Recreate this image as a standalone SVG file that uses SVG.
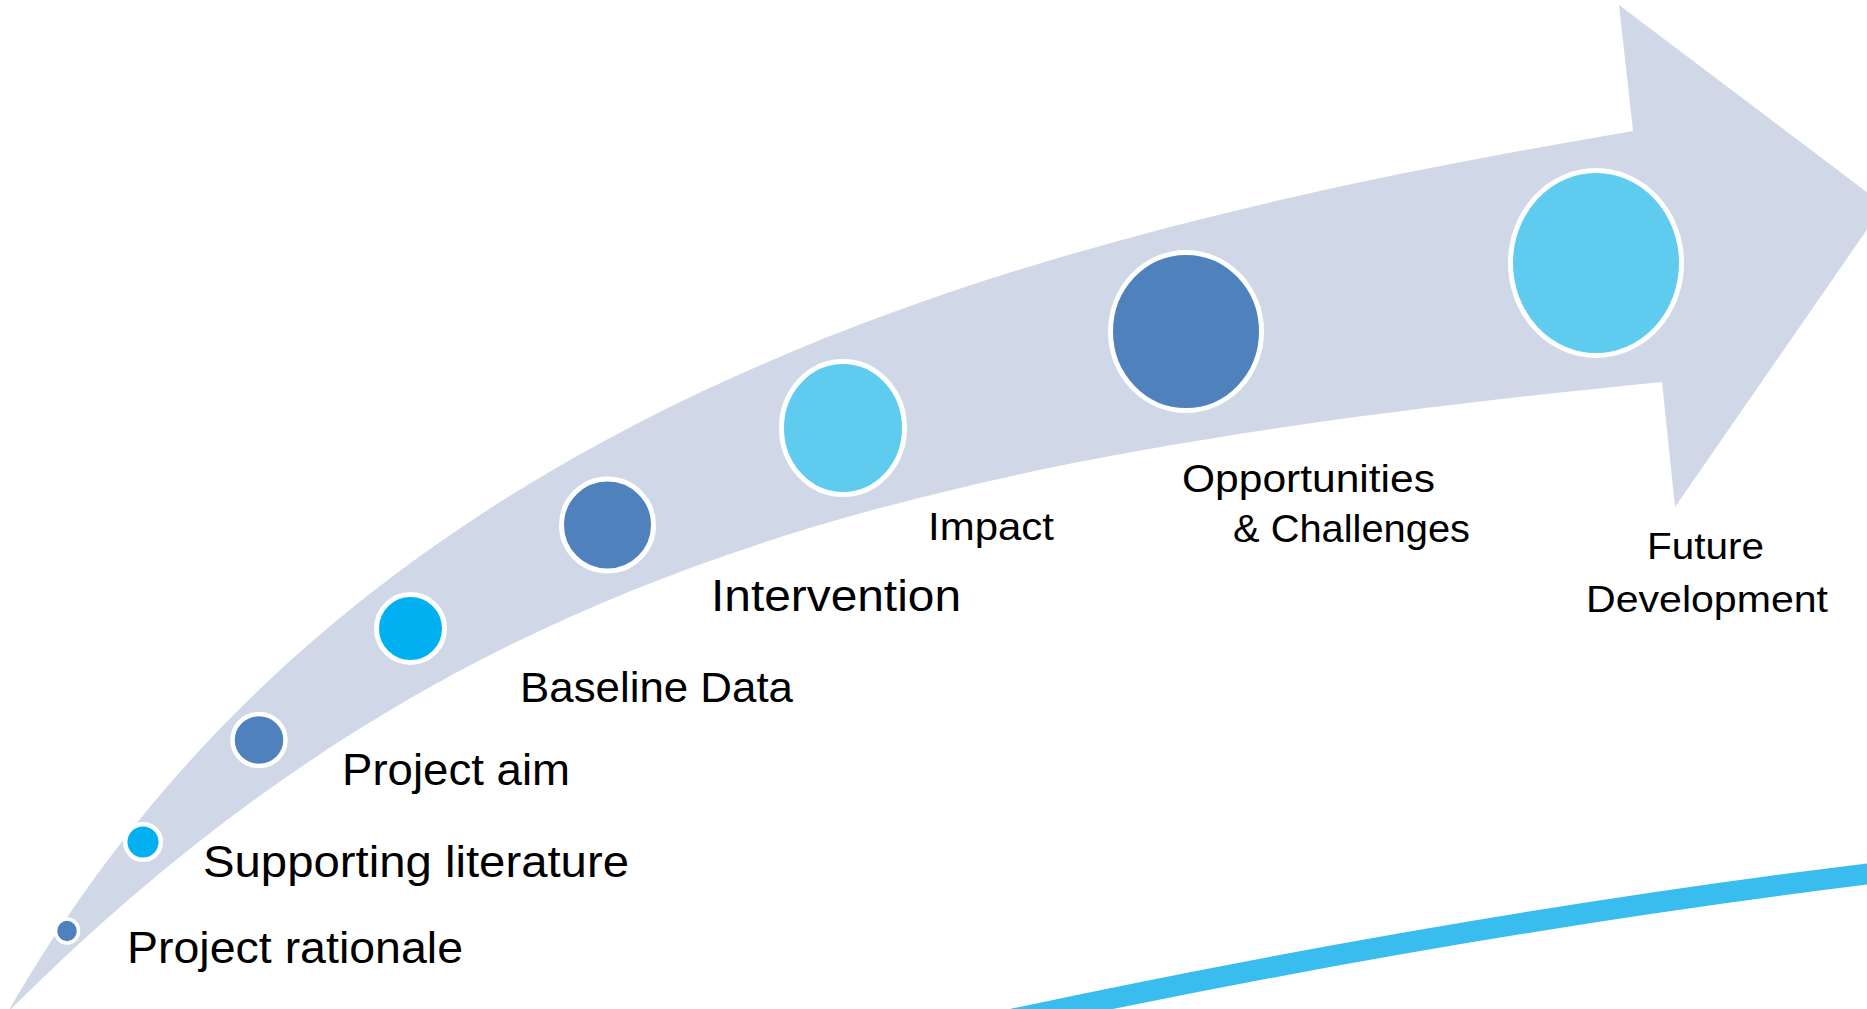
<svg xmlns="http://www.w3.org/2000/svg" width="1867" height="1009" viewBox="0 0 1867 1009">
  <style>
    .band { fill: #D0D8E8; }
    .swoosh { fill: none; stroke: #38BDEE; stroke-width: 21; }
    .dot { stroke: #FFFFFF; }
    .dark { fill: #4F81BD; }
    .cyan { fill: #00B0F0; }
    .light { fill: #5FCBEF; }
    .label { font-family: "Liberation Sans", Arial, sans-serif; fill: #000000; }
  </style>

  <!-- curved progress arrow and accent swoosh -->
  <g id="track">
    <path class="band" d="M 8,1012 C 358,399.5 1033,233 1633,131 L 1619,5 L 1884,205 L 1675,507 L 1662,382 C 912,457 458,562 8,1012 Z"/>
    <path class="swoosh" d="M 990,1024 Q 1450,925 1875,873"/>
  </g>

  <!-- milestones along the arrow -->
  <g id="project-rationale">
    <ellipse class="dot dark" cx="67" cy="931" rx="11.5" ry="12" stroke-width="3.5"/>
    <text class="label" x="127" y="963" font-size="44" textLength="336" lengthAdjust="spacingAndGlyphs">Project rationale</text>
  </g>

  <g id="supporting-literature">
    <ellipse class="dot cyan" cx="143" cy="842" rx="17.8" ry="17.8" stroke-width="4.5"/>
    <text class="label" x="203" y="877" font-size="44" textLength="426" lengthAdjust="spacingAndGlyphs">Supporting literature</text>
  </g>

  <g id="project-aim">
    <ellipse class="dot dark" cx="259" cy="740" rx="26.5" ry="26" stroke-width="4.5"/>
    <text class="label" x="342" y="785" font-size="44" textLength="228" lengthAdjust="spacingAndGlyphs">Project aim</text>
  </g>

  <g id="baseline-data">
    <ellipse class="dot cyan" cx="410.5" cy="628.5" rx="34" ry="34" stroke-width="5"/>
    <text class="label" x="520" y="702" font-size="43" textLength="273" lengthAdjust="spacingAndGlyphs">Baseline Data</text>
  </g>

  <g id="intervention">
    <ellipse class="dot dark" cx="607.5" cy="525" rx="46" ry="46" stroke-width="5"/>
    <text class="label" x="711" y="611" font-size="45" textLength="250" lengthAdjust="spacingAndGlyphs">Intervention</text>
  </g>

  <g id="impact">
    <ellipse class="dot light" cx="843" cy="428" rx="61.5" ry="66.5" stroke-width="5"/>
    <text class="label" x="928" y="540" font-size="38" textLength="126" lengthAdjust="spacingAndGlyphs">Impact</text>
  </g>

  <g id="opportunities-challenges">
    <ellipse class="dot dark" cx="1186" cy="331.5" rx="75.5" ry="79" stroke-width="5"/>
    <text class="label" x="1182" y="492" font-size="39" textLength="253" lengthAdjust="spacingAndGlyphs">Opportunities</text>
    <text class="label" x="1233" y="542" font-size="39" textLength="237" lengthAdjust="spacingAndGlyphs">&amp; Challenges</text>
  </g>

  <g id="future-development">
    <ellipse class="dot light" cx="1596" cy="263" rx="85.5" ry="92.5" stroke-width="5"/>
    <text class="label" x="1647" y="559" font-size="37" textLength="117" lengthAdjust="spacingAndGlyphs">Future</text>
    <text class="label" x="1586" y="612" font-size="37" textLength="242" lengthAdjust="spacingAndGlyphs">Development</text>
  </g>
</svg>
